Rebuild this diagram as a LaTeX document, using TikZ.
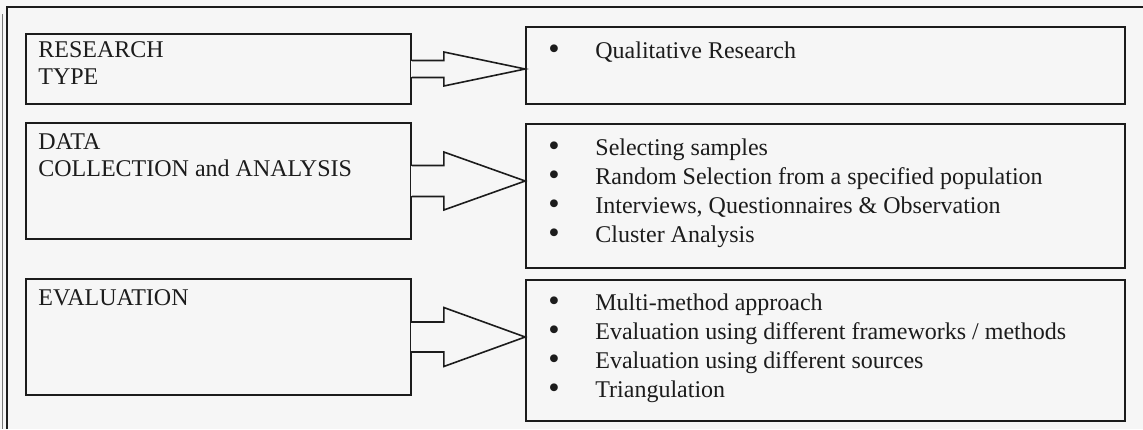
\documentclass[tikz,border=0pt]{standalone}
\usepackage{fontspec}
\usepackage{graphicx}
\setmainfont{Liberation Serif}
\usetikzlibrary{calc}
\definecolor{paper}{RGB}{246,246,246}
\definecolor{ink}{RGB}{28,28,28}

% block arrow from the right side of one box to the left side of another:
% #1 source node, #2 target node, #3 half height of the shaft, #4 half height of the head
\newcommand\linkarrow[4]{%
  \fill[paper] ($(#1.east)+(-1.2,-#3+0.8)$) rectangle ($(#1.east)+(1.2,#3-0.8)$);
  \draw[arrowline] ($(#1.east)+(0,-#3)$) -- ++(32,0) -- ($(#1.east)+(32,-#4)$)
    -- (#2.west |- #1.east) -- ($(#1.east)+(32,#4)$) -- ($(#1.east)+(32,#3)$)
    -- ($(#1.east)+(0,#3)$);
}
% lines stacked under the baseline of the first one
\newcommand\stack[1]{\begin{tabular}[t]{@{}l@{}}#1\end{tabular}}
% bulleted entry
\newcommand\entry[1]{\makebox[47pt][l]{\raisebox{-0.06em}{\scalebox{1.35}{\textbullet}}}#1}

\begin{document}
\begin{tikzpicture}[x=1pt,y=-1pt,
  frameline/.style={draw=ink, line width=1.6pt},
  leftbox/.style={frameline, rectangle, minimum width=385pt, inner sep=0pt},
  rightbox/.style={frameline, rectangle, minimum width=599pt, inner sep=0pt},
  heading/.style={anchor=base west, inner sep=0pt, text=ink,
    font=\fontsize{24}{27}\selectfont},
  items/.style={anchor=base west, inner sep=0pt, text=ink,
    font=\fontsize{24}{29}\selectfont},
  arrowline/.style={draw=ink, line width=1.6pt, line join=miter},
]
\useasboundingbox (0,0) rectangle (1143,429);
\fill[paper] (0,0) rectangle (1143,429);

% outer frame, open at the right and at the bottom
\draw[ink!60, line width=0.6pt] (2,14) -- (2,429);
\draw[frameline] (7,429) -- (7,7) -- (1143,7);

% left column: stages
\node[leftbox, minimum height=70pt]  (type) at (218.5,69)  {};
\node[leftbox, minimum height=116pt] (data) at (218.5,181) {};
\node[leftbox, minimum height=116pt] (eval) at (218.5,337) {};

\node[heading] (typetext) at ($(type.north west)+(13,24)$) {\stack{RESEARCH\\TYPE}};
\node[heading] (datatext) at ($(data.north west)+(13,27)$) {\stack{DATA\\COLLECTION and ANALYSIS}};
\node[heading] (evaltext) at ($(eval.north west)+(13,27)$) {EVALUATION};

% right column: details
\node[rightbox, minimum height=77pt]  (qual)    at (825.5,65.5)  {};
\node[rightbox, minimum height=144pt] (methods) at (825.5,196)   {};
\node[rightbox, minimum height=141pt] (checks)  at (825.5,350.5) {};

\node[items] (qualtext) at ($(qual.north west)+(23,32)$)
  {\entry{Qualitative Research}};
\node[items] (methodstext) at ($(methods.north west)+(23,32)$)
  {\stack{\entry{Selecting samples}\\
   \entry{Random Selection from a specified population}\\
   \entry{Interviews, Questionnaires \& Observation}\\
   \entry{Cluster Analysis}}};
\node[items] (checkstext) at ($(checks.north west)+(23,31)$)
  {\stack{\entry{Multi-method approach}\\
   \entry{Evaluation using different frameworks / methods}\\
   \entry{Evaluation using different sources}\\
   \entry{Triangulation}}};

% block arrows
\linkarrow{type}{qual}{8.5}{17}
\linkarrow{data}{methods}{15.5}{29}
\linkarrow{eval}{checks}{15}{29.5}
\end{tikzpicture}
\end{document}
